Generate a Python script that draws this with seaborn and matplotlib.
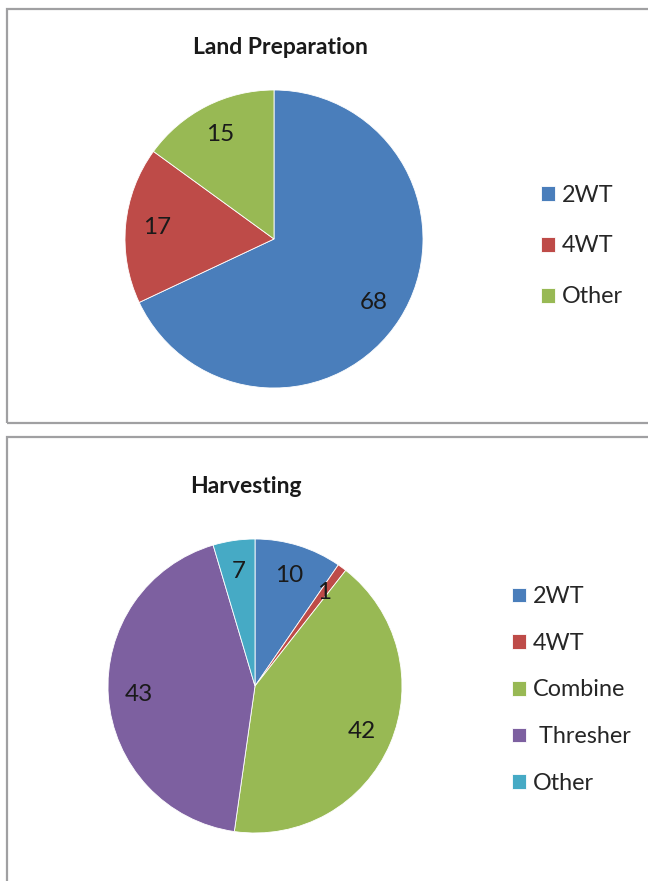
import matplotlib
matplotlib.use("Agg")
import matplotlib.pyplot as plt
import seaborn as sns
from matplotlib.patches import Rectangle

# data
land_labels = ["2WT", "4WT", "Other"]
land_values = [68, 17, 15]
harv_labels = ["2WT", "4WT", "Combine", " Thresher", "Other"]
harv_values = [10, 1, 42, 43, 7]
# slice sizes as drawn in the original (the 'Other' slice is smaller than its label)
harv_share = [9.6, 1.0, 41.7, 43.2, 4.6]

sns.set_theme(style="white")
plt.rcParams['font.family'] = ['Lato', 'DejaVu Sans']
colors = sns.color_palette(["#4A7EBB", "#BE4B48", "#98B954", "#7D60A0", "#46AAC5"])

W, H = 648, 881
fig = plt.figure(figsize=(W / 100, H / 100), dpi=100)


def px_axes(cx, cy, r):
    return fig.add_axes([(cx - r) / W, 1 - (cy + r) / H, 2 * r / W, 2 * r / H])


def draw_pie(ax, shares, values, cats, legend_xy, spacing):
    wedges, _, autotexts = ax.pie(
        shares, colors=colors[:len(shares)], startangle=90, counterclock=False,
        autopct="%d", pctdistance=0.79, radius=1,
        wedgeprops=dict(linewidth=0.6, edgecolor="white"),
        textprops=dict(fontsize=17.5, color="#1a1a1a"))
    for t, v in zip(autotexts, values):
        t.set_text(str(v))
    ax.set_xlim(-1, 1)
    ax.set_ylim(-1, 1)
    ax.set_aspect("equal")
    ax.axis("off")
    fig.legend(wedges, cats, loc="center left", frameon=False,
               bbox_to_anchor=(legend_xy[0] / W, 1 - legend_xy[1] / H),
               fontsize=16.8, handlelength=0.6, handleheight=0.6,
               handletextpad=0.3, labelspacing=spacing, borderpad=0)


# panel borders
fig.patches.append(Rectangle((7 / W, 1 - 423 / H), 700 / W, 414 / H,
                             transform=fig.transFigure, fill=False,
                             edgecolor="#A0A0A2", linewidth=1.6))
fig.patches.append(Rectangle((7 / W, -0.1), 700 / W, 1 - 437 / H + 0.1,
                             transform=fig.transFigure, fill=False,
                             edgecolor="#A0A0A2", linewidth=1.6))

# Land Preparation
ax1 = px_axes(274, 239, 149)
draw_pie(ax1, land_values, land_values, land_labels, (529, 246), 1.28)
fig.text(280 / W, 1 - 47 / H, "Land Preparation", ha="center", va="center",
         fontsize=16.5, fontweight="bold", color="#1a1a1a")

# Harvesting
ax2 = px_axes(255, 686, 147)
draw_pie(ax2, harv_share, harv_values, harv_labels, (500, 690), 1.10)
fig.text(246 / W, 1 - 487 / H, "Harvesting", ha="center", va="center",
         fontsize=16.5, fontweight="bold", color="#1a1a1a")

fig.savefig("out.png", dpi=100, facecolor="white")
